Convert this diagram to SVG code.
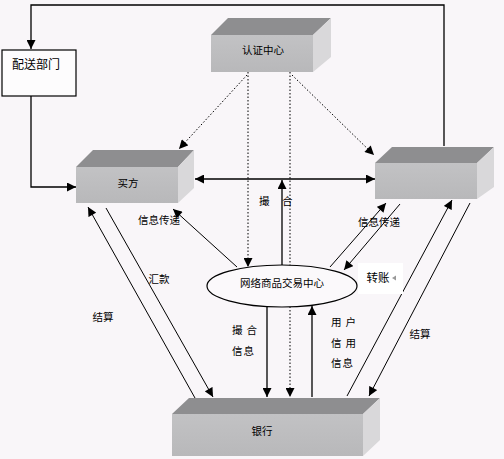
<svg xmlns="http://www.w3.org/2000/svg" width="504" height="459" viewBox="0 0 504 459">
<defs>
<marker id="ah" viewBox="0 0 10 10" refX="10" refY="5" markerWidth="10" markerHeight="9" orient="auto-start-reverse" markerUnits="userSpaceOnUse"><path d="M0,0L10,5L0,10z" fill="#000"/></marker>
<linearGradient id="fg" x1="0" y1="0" x2="0" y2="1"><stop offset="0" stop-color="#c2c2c4"/><stop offset="1" stop-color="#b8b8ba"/></linearGradient>
</defs>
<style>
text{font-family:"Noto Sans CJK SC","Noto Sans",sans-serif;font-size:10.5px;fill:#000}
.c{text-anchor:middle}
.ln{fill:none;stroke:#000;stroke-width:1}
.th{stroke-width:1.3}
.dt{stroke-dasharray:1.5,2}
.ar{marker-end:url(#ah)}
.front{fill:url(#fg)}
.top{fill:#8e8e90}
.side{fill:#d9d8da}
</style>
<rect width="504" height="459" fill="#f9f6f9"/>
<g id="connectors">
<path class="ln th ar" d="M444,146V5H31V49"/>
<path class="ln th ar" d="M31,96V187H76"/>
<path class="ln dt ar" d="M247,75L179,149"/>
<path class="ln dt ar" d="M292,75L374,155"/>
<path class="ln dt ar" d="M248,72V267"/>
<path class="ln dt ar" d="M290,72V397"/>
<path class="ln th ar" d="M195,179H375" marker-start="url(#ah)"/>
<path class="ln th ar" d="M282,265V180"/>
<path class="ln ar" d="M237,267L173,209"/>
<path class="ln ar" d="M330,267L386,203"/>
<path class="ln ar" d="M400,204L344,270"/>
<path class="ln th ar" d="M267,307V397"/>
<path class="ln th ar" d="M312,397V306"/>
<path class="ln ar" d="M195,398L88,207"/>
<path class="ln ar" d="M106,208L213,397"/>
<path class="ln ar" d="M347,396L452,200"/>
<path class="ln ar" d="M470,203L369,396"/>
</g>
<g id="delivery">
<rect x="2" y="50" width="74" height="46" fill="#fdfcfd" stroke="#000" stroke-width="1.2"/>
<text x="36" y="69" class="c" style="font-size:12px">配送部门</text>
</g>
<g id="cert">
<rect class="front" x="211" y="35" width="102" height="37"/>
<polygon class="top" points="211,35 228,18 331,18 313,35"/>
<polygon class="side" points="313,35 331,18 331,57 313,72"/>
<text x="263" y="54" class="c">认证中心</text>
</g>
<g id="buyer">
<rect class="front" x="76" y="167" width="102" height="36"/>
<polygon class="top" points="76,167 93,150 194,150 178,167"/>
<polygon class="side" points="178,167 194,150 194,188 178,203"/>
<text x="128" y="187" class="c">买方</text>
</g>
<g id="seller">
<rect class="front" x="375" y="163" width="102" height="36"/>
<polygon class="top" points="375,163 392,147 494,147 477,163"/>
<polygon class="side" points="477,163 494,147 494,187 477,199"/>
</g>
<g id="bank">
<rect class="front" x="172" y="414" width="191" height="42"/>
<polygon class="top" points="172,414 189,398 380,398 363,414"/>
<polygon class="side" points="363,414 380,398 380,440 363,456"/>
<text x="262" y="435" class="c">银行</text>
</g>
<g id="center">
<ellipse cx="282" cy="286" rx="75" ry="21" fill="#fbf9fb" stroke="#000" stroke-width="1.2"/>
<text x="282" y="287" class="c">网络商品交易中心</text>
</g>
<g id="labels">
<text y="205"><tspan x="259">撮</tspan><tspan x="282">合</tspan></text>
<text x="159" y="224" class="c">信息传递</text>
<text x="379" y="226" class="c">信息传递</text>
<rect x="358" y="263" width="45" height="31" fill="#fff"/>
<text x="378" y="282" class="c" style="font-size:11.5px">转账</text>
<polygon points="392,278 396,275.5 396,280.5" fill="#999"/>
<text x="159" y="283" class="c">汇款</text>
<text x="103" y="321" class="c">结算</text>
<text x="420" y="338" class="c">结算</text>
<text x="232" y="334" style="letter-spacing:4px">撮合</text>
<text x="232" y="355" style="letter-spacing:1px">信息</text>
<text x="331" y="326" style="letter-spacing:4px">用户</text>
<text x="331" y="347" style="letter-spacing:4px">信用</text>
<text x="331" y="367" style="letter-spacing:1px">信息</text>
</g>
</svg>
